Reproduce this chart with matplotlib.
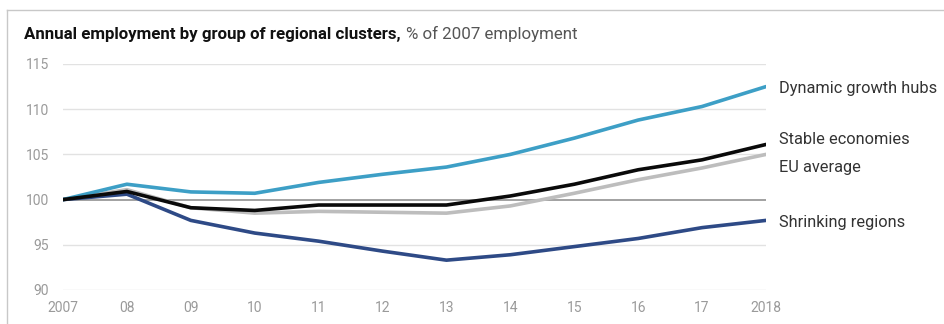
import matplotlib.pyplot as plt
import numpy as np

plt.rcParams['font.family'] = ['Roboto', 'DejaVu Sans']

years = np.arange(2007, 2019)
year_labels = ['2007', '08', '09', '10', '11', '12', '13', '14', '15', '16', '17', '2018']

dynamic_hubs = [100, 101.7, 100.85, 100.7, 101.9, 102.8, 103.6, 105.0, 106.8, 108.8, 110.3, 112.5]
stable_economies = [100, 100.9, 99.1, 98.8, 99.4, 99.4, 99.4, 100.4, 101.7, 103.3, 104.4, 106.1]
eu_average = [100, 101.1, 99.1, 98.5, 98.7, 98.6, 98.5, 99.3, 100.7, 102.2, 103.5, 105.0]
shrinking = [100, 100.6, 97.7, 96.3, 95.4, 94.3, 93.3, 93.9, 94.8, 95.7, 96.9, 97.7]

series_names = ['Dynamic growth hubs', 'Stable economies', 'EU average', 'Shrinking regions']
label_y = [112.3, 106.6, 103.5, 97.5]
yticks = [90, 95, 100, 105, 110, 115]

colors = ['#3d9fc6', '#0a0a0a', '#bdbdbd', '#2e4a86']

fig = plt.figure(figsize=(9.45, 3.24), dpi=100)
ax = fig.add_axes([63 / 945, 34 / 324, (766 - 63) / 945, (290 - 64) / 324])

# light horizontal grid, darker 100 baseline
for v in yticks:
    ax.axhline(v, color='#9a9a9a' if v == 100 else '#e2e2e2',
               lw=1.3 if v == 100 else 1.0, zorder=1)

# grey average first so the black line sits on top
order = [2, 3, 0, 1]
data = [dynamic_hubs, stable_economies, eu_average, shrinking]
for i in order:
    ax.plot(years, data[i], color=colors[i], lw=2.6, solid_capstyle='round', zorder=3)

for name, yv in zip(series_names, label_y):
    ax.text(2018 + 0.2, yv, name, fontsize=11.8, color='#333333',
            va='center', ha='left', clip_on=False)

ax.set_xlim(2007, 2018)
ax.set_ylim(90, 115)
ax.set_xticks(years)
ax.set_xticklabels(year_labels)
ax.set_yticks(yticks)
ax.tick_params(length=0, labelsize=10, labelcolor='#9a9a9a')
ax.tick_params(axis='y', pad=10)
ax.tick_params(axis='x', pad=8)
for s in ax.spines.values():
    s.set_visible(False)

# title: bold lead-in followed by regular grey unit note
t1 = fig.text(24 / 945, 1 - 34 / 324, 'Annual employment by group of regional clusters,',
              fontsize=12.2, fontweight='bold', color='#111111', va='center')
fig.canvas.draw()
bb = t1.get_window_extent()
fig.text(bb.x1 / 945 + 5 / 945, 1 - 34 / 324, '% of 2007 employment',
         fontsize=12.2, color='#555555', va='center')

# thin frame on top and left edges
fig.add_artist(plt.Line2D([7 / 945, 1], [1 - 9.5 / 324] * 2, color='#c8c8c8', lw=1))
fig.add_artist(plt.Line2D([7 / 945] * 2, [0, 1 - 9.5 / 324], color='#c8c8c8', lw=1))

fig.savefig('out.png', dpi=100)
